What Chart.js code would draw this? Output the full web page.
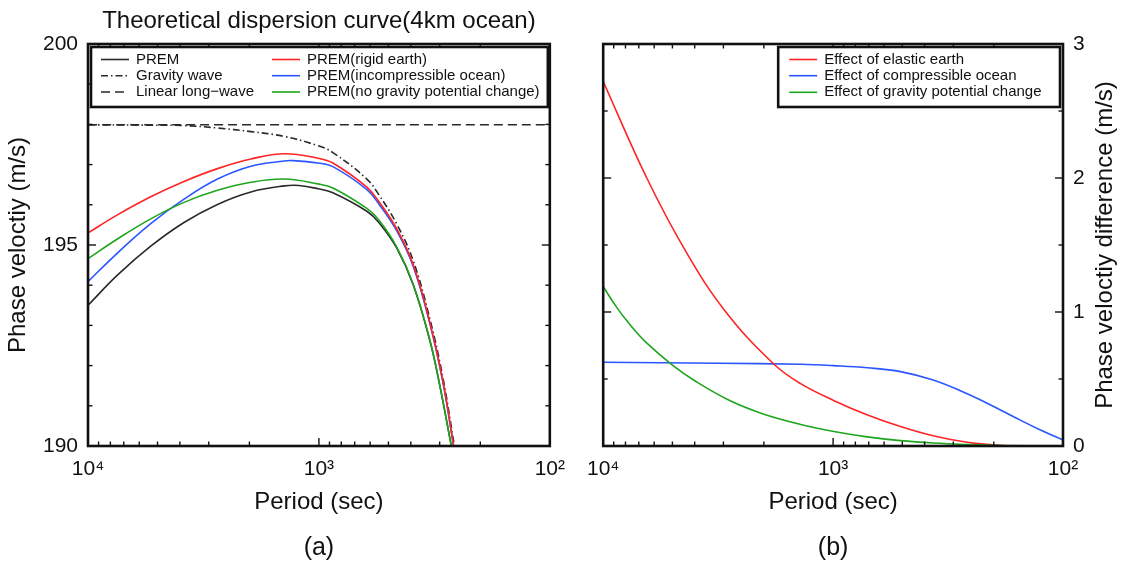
<!DOCTYPE html>
<html>
<head>
<meta charset="utf-8">
<title>Theoretical dispersion curve (4km ocean)</title>
<script src="https://cdn.jsdelivr.net/npm/chart.js@4.4.1/dist/chart.umd.min.js"></script>
<style>
  html, body { margin: 0; padding: 0; background: #fff; }
  #wrap { position: relative; width: 1122px; height: 567px; overflow: hidden; }
  canvas { position: absolute; top: 0; }
  #chartA { left: 0; }
  #chartB { left: 576px; }
</style>
</head>
<body>
<div id="wrap">
  <canvas id="chartA" width="576" height="567"></canvas>
  <canvas id="chartB" width="546" height="567"></canvas>
</div>
<script>
// ---------- (a) phase velocity (m/s) versus period (s) ----------
const premPeriod   = [10000, 7460, 5350, 3840, 2750, 1970, 1410, 1220, 1010, 870, 620, 550, 460, 390, 330, 300, 267];
const premVel      = [193.50, 194.25, 194.97, 195.56, 196.01, 196.32, 196.47, 196.48, 196.40, 196.30, 195.84, 195.56, 194.92, 194.00, 192.60, 191.52, 190.00];

const gravityPeriod = [10000, 5350, 3840, 2750, 1970, 1410, 1010, 870, 620, 550, 460, 390, 330, 290, 259];
const gravityVel    = [197.99, 197.98, 197.97, 197.91, 197.82, 197.70, 197.47, 197.30, 196.64, 196.25, 195.52, 194.60, 193.14, 191.68, 190.00];

const longWavePeriod = [10000, 100];
const longWaveVel    = [197.99, 197.99];

const rigidPeriod  = [10000, 7460, 5350, 3840, 2750, 1970, 1410, 1010, 870, 620, 550, 460, 390, 330, 290, 261];
const rigidVel     = [195.30, 195.75, 196.20, 196.58, 196.90, 197.14, 197.27, 197.16, 197.04, 196.44, 196.08, 195.40, 194.50, 193.05, 191.60, 190.00];

const incompPeriod = [10000, 7460, 5350, 3840, 2750, 1970, 1410, 1300, 1010, 870, 620, 550, 460, 390, 330, 290, 261];
const incompVel    = [194.09, 194.80, 195.53, 196.14, 196.64, 196.96, 197.09, 197.10, 197.04, 196.95, 196.38, 196.02, 195.35, 194.46, 193.02, 191.56, 190.00];

const noGravPeriod = [10000, 7460, 5350, 3840, 2750, 1970, 1410, 1010, 870, 620, 550, 460, 390, 330, 300, 267];
const noGravVel    = [194.66, 195.15, 195.65, 196.06, 196.36, 196.56, 196.64, 196.52, 196.42, 195.91, 195.62, 194.95, 194.02, 192.61, 191.53, 190.00];

// ---------- (b) phase velocity differences (m/s) versus period (s) ----------
const elasticPeriod = [10000, 6463, 4365, 2927, 1812, 1384, 995, 708, 509, 367, 261, 201, 170, 100];
const elasticDiff   = [2.72, 2.00, 1.45, 1.00, 0.612, 0.465, 0.340, 0.231, 0.145, 0.076, 0.028, 0.008, 0.0, 0.0];

const compressPeriod = [10000, 3162, 1384, 995, 708, 509, 367, 261, 188, 154, 126, 100];
const compressDiff   = [0.625, 0.618, 0.610, 0.600, 0.584, 0.555, 0.492, 0.390, 0.271, 0.195, 0.121, 0.045];

const potentialPeriod = [10000, 8781, 7689, 6508, 4984, 3949, 2832, 2029, 1384, 992, 710, 510, 365, 262, 188, 100];
const potentialDiff   = [1.19, 1.04, 0.910, 0.773, 0.602, 0.481, 0.341, 0.241, 0.161, 0.108, 0.068, 0.040, 0.022, 0.011, 0.004, 0.0];

// ---------- axis text ----------
const periodTitle = 'Period (sec)';
const velTitle = 'Phase veloctiy (m/s)';
const diffTitle = 'Phase veloctiy difference (m/s)';
const chartTitle = 'Theoretical dispersion curve(4km ocean)';
const SUP = { 2: '\u00B2', 3: '\u00B3', 4: '\u2074' };

const FONT = "'Liberation Sans', Arial, Helvetica, sans-serif";
const INK = '#111';
const RED = '#ff2424', BLUE = '#2a55ff', GREEN = '#1ea51e', BLACK = '#2a2a2a';

Chart.defaults.font.family = FONT;
Chart.defaults.color = INK;

const pts = (xs, ys) => xs.map((x, i) => ({ x, y: ys[i] }));

function line(label, xs, ys, color, dash, order) {
  return {
    label, data: pts(xs, ys), borderColor: color, backgroundColor: color,
    borderWidth: 1.6, borderDash: dash || [], pointRadius: 0, fill: false,
    tension: 0.4, order
  };
}

function periodAxis() {
  return {
    type: 'logarithmic', min: 100, max: 10000, reverse: true,
    grid: { display: false, drawTicks: false }, border: { display: false },
    ticks: {
      autoSkip: false, maxRotation: 0, padding: 11, color: INK, font: { size: 21 },
      callback: v => {
        const e = Math.log10(v), r = Math.round(e);
        return Math.abs(e - r) < 1e-6 ? '10' + SUP[r] : '';
      }
    },
    title: { display: true, text: periodTitle, color: INK, font: { size: 24 }, padding: { top: 0, bottom: 50 } },
    afterFit: s => { s.height = 121; }
  };
}

// frame of the plot box with inward ticks on all four sides
const frameTicks = {
  id: 'frameTicks',
  afterDatasetsDraw(chart, args, o) {
    const { ctx, chartArea: a, scales: { x, y } } = chart;
    ctx.save();
    ctx.strokeStyle = INK;
    ctx.lineWidth = 1.4;
    const seg = (x0, y0, x1, y1) => { ctx.beginPath(); ctx.moveTo(x0, y0); ctx.lineTo(x1, y1); ctx.stroke(); };
    for (let d = 2; d <= 4; d++) {
      for (let m = 1; m <= 9; m++) {
        const v = m * Math.pow(10, d);
        if (v > 10000) break;
        const px = x.getPixelForValue(v);
        const len = m === 1 ? 8 : 4.5;
        seg(px, a.bottom, px, a.bottom - len);
        seg(px, a.top, px, a.top + len);
      }
    }
    for (let v = y.min; v <= y.max + 1e-9; v += o.minor) {
      const py = y.getPixelForValue(v);
      const major = Math.abs(v / o.major - Math.round(v / o.major)) < 1e-6;
      const len = major ? 8 : 4.5;
      seg(a.left, py, a.left + len, py);
      seg(a.right, py, a.right - len, py);
    }
    ctx.lineWidth = 2.6;
    ctx.strokeRect(a.left, a.top, a.right - a.left, a.bottom - a.top);
    ctx.restore();
  }
};

// boxed legend inside the plot area, plus panel captions
const boxLegend = {
  id: 'boxLegend',
  afterDraw(chart, args, o) {
    const { ctx, chartArea: a } = chart;
    ctx.save();
    const L = a.left + o.left, R = a.right - o.right, T = a.top + o.top, B = a.top + o.bottom;
    ctx.fillStyle = '#fff';
    ctx.fillRect(L, T, R - L, B - T);
    ctx.lineWidth = 2.6;
    ctx.strokeStyle = INK;
    ctx.strokeRect(L, T, R - L, B - T);
    ctx.font = '15px ' + FONT;
    ctx.textBaseline = 'middle';
    ctx.textAlign = 'left';
    o.items.forEach(it => {
      const ds = chart.data.datasets[it.ds];
      const lx = a.left + o.cols[it.col], ly = a.top + o.rows[it.row];
      ctx.strokeStyle = ds.borderColor;
      ctx.lineWidth = 1.6;
      ctx.setLineDash(ds.borderDash || []);
      ctx.beginPath(); ctx.moveTo(lx, ly); ctx.lineTo(lx + 28, ly); ctx.stroke();
      ctx.setLineDash([]);
      ctx.fillStyle = INK;
      ctx.fillText(ds.label, lx + 35, ly);
    });

    const cx = (a.left + a.right) / 2;
    ctx.fillStyle = INK;
    ctx.textAlign = 'center';
    ctx.textBaseline = 'middle';
    ctx.font = '25px ' + FONT;
    ctx.fillText(o.tag, cx, 548);
    if (o.title) {
      ctx.font = '24px ' + FONT;
      ctx.fillText(o.title, cx, 21);
    }
    if (o.sideTitle) {
      ctx.font = '24px ' + FONT;
      ctx.translate(o.sideTitleX, (a.top + a.bottom) / 2);
      ctx.rotate(-Math.PI / 2);
      ctx.fillText(o.sideTitle, 0, 0);
    }
    ctx.restore();
  }
};

new Chart(document.getElementById('chartA'), {
  type: 'line',
  data: {
    datasets: [
      line('PREM', premPeriod, premVel, BLACK, [], 4),
      line('Gravity wave', gravityPeriod, gravityVel, BLACK, [7, 3, 1.5, 3], 5),
      line('Linear long\u2212wave', longWavePeriod, longWaveVel, BLACK, [9, 5], 6),
      line('PREM(rigid earth)', rigidPeriod, rigidVel, RED, [], 2),
      line('PREM(incompressible ocean)', incompPeriod, incompVel, BLUE, [], 3),
      line('PREM(no gravity potential change)', noGravPeriod, noGravVel, GREEN, [], 1)
    ]
  },
  options: {
    responsive: false, animation: false, devicePixelRatio: 1,
    layout: { padding: { left: 0, right: 26, top: 44, bottom: 0 } },
    scales: {
      x: periodAxis(),
      y: {
        type: 'linear', min: 190, max: 200, position: 'left',
        grid: { display: false, drawTicks: false }, border: { display: false },
        ticks: { stepSize: 5, padding: 10, color: INK, font: { size: 21 } },
        title: { display: true, text: velTitle, color: INK, font: { size: 24 }, padding: { top: 4, bottom: 0 } },
        afterFit: s => { s.width = 88; }
      }
    },
    plugins: {
      legend: { display: false },
      tooltip: { enabled: false },
      frameTicks: { minor: 1, major: 5 },
      boxLegend: {
        left: 3, right: 2, top: 3, bottom: 63,
        cols: [13, 184], rows: [15.5, 31.7, 48],
        items: [
          { ds: 0, col: 0, row: 0 }, { ds: 1, col: 0, row: 1 }, { ds: 2, col: 0, row: 2 },
          { ds: 3, col: 1, row: 0 }, { ds: 4, col: 1, row: 1 }, { ds: 5, col: 1, row: 2 }
        ],
        tag: '(a)', title: chartTitle
      }
    }
  },
  plugins: [frameTicks, boxLegend]
});

new Chart(document.getElementById('chartB'), {
  type: 'line',
  data: {
    datasets: [
      line('Effect of elastic earth', elasticPeriod, elasticDiff, RED, [], 2),
      line('Effect of compressible ocean', compressPeriod, compressDiff, BLUE, [], 3),
      line('Effect of gravity potential change', potentialPeriod, potentialDiff, GREEN, [], 1)
    ]
  },
  options: {
    responsive: false, animation: false, devicePixelRatio: 1,
    layout: { padding: { left: 26, right: 0, top: 44, bottom: 0 } },
    scales: {
      x: periodAxis(),
      y: {
        type: 'linear', min: 0, max: 3, position: 'right',
        grid: { display: false, drawTicks: false }, border: { display: false },
        ticks: { stepSize: 1, padding: 10, color: INK, font: { size: 21 } },
        title: { display: false },
        afterFit: s => { s.width = 59; }
      }
    },
    plugins: {
      legend: { display: false },
      tooltip: { enabled: false },
      frameTicks: { minor: 0.5, major: 1 },
      boxLegend: {
        left: 175, right: 3, top: 3, bottom: 63,
        cols: [186], rows: [15.5, 31.7, 48.3],
        items: [ { ds: 0, col: 0, row: 0 }, { ds: 1, col: 0, row: 1 }, { ds: 2, col: 0, row: 2 } ],
        tag: '(b)', sideTitle: diffTitle, sideTitleX: 529
      }
    }
  },
  plugins: [frameTicks, boxLegend]
});
</script>
</body>
</html>
